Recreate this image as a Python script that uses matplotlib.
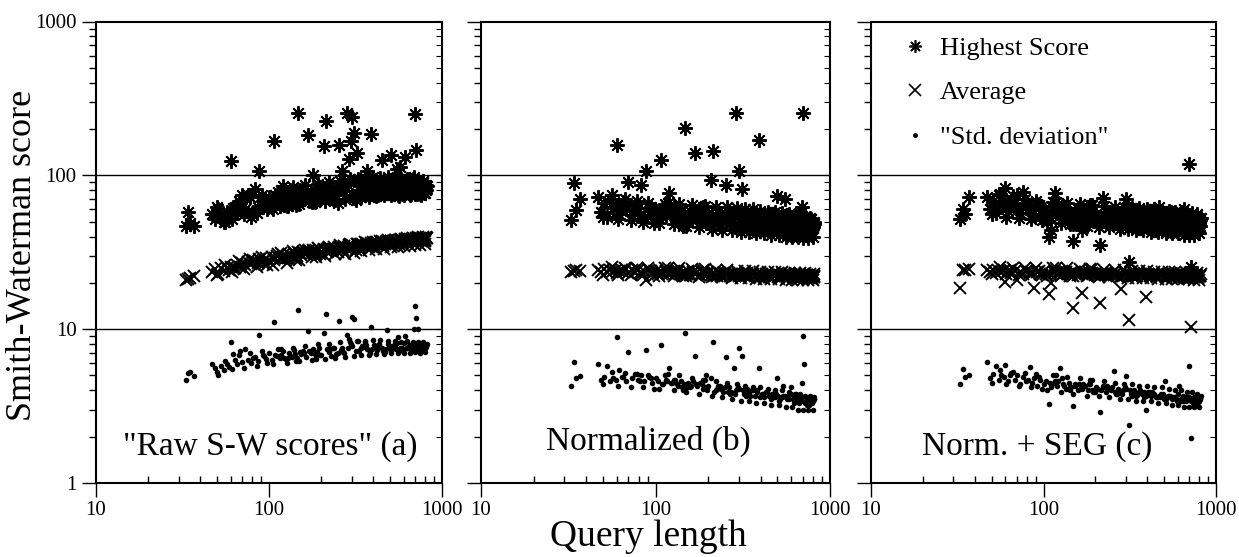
import numpy as np
import matplotlib
matplotlib.use('Agg')
import matplotlib.pyplot as plt
from matplotlib.lines import Line2D

plt.rcParams['font.family'] = ['Liberation Serif', 'DejaVu Serif']

# query lengths (shared by all three panels)
query_len = [
    33, 34, 35, 37, 47, 49, 51, 53, 55, 57,
    59, 60, 62, 65, 68, 70, 73, 76, 79, 83,
    86, 88, 92, 96, 100, 104, 107, 111, 115, 120,
    125, 130, 135, 140, 145, 148, 153, 158, 164, 168,
    174, 180, 187, 194, 201, 208, 214, 221, 229, 237,
    245, 255, 263, 272, 282, 290, 297, 302, 312, 322,
    333, 345, 357, 370, 383, 391, 405, 420, 435, 450,
    466, 482, 498, 506, 520, 540, 556, 575, 595, 612,
    630, 650, 670, 690, 700, 712, 728, 745, 762, 780,
    795, 805, 117, 132, 160, 190, 226, 260, 340, 415,
    475, 530, 585, 640, 680, 735, 770, 800, 550, 660,
    122, 142, 170, 198, 233, 268, 300, 328, 362, 395,
    428, 458, 490, 512, 535, 565, 600, 625, 645, 675,
    695, 718, 740, 758, 775, 790, 810, 64, 81, 94,
    109, 128, 152, 184, 216, 250, 285, 317, 350, 380,
    105, 118, 127, 137, 149, 162, 178, 192, 210, 223,
    240, 258, 276, 292, 308, 325, 342, 360, 378, 398,
    418, 440, 462, 485, 510, 532, 558, 582, 605, 628,
    652, 676, 698, 722, 748, 772, 798, 815, 50, 56,
    61, 67, 72, 78, 85, 91, 98, 113, 143, 186,
]

# (a) raw S-W scores
raw_high = [
    46.5, 58, 49, 46.5, 56, 52, 60, 55, 50, 58,
    54, 124, 61, 57, 66, 74, 60, 75, 54, 81,
    62, 107, 68, 64, 72, 66, 166, 70, 63, 85,
    74, 68, 80, 71, 76, 254, 69, 75, 72, 183,
    78, 101, 73, 80, 71, 154, 224, 77, 74, 82,
    75, 158, 107, 79, 254, 127, 166, 239, 188, 139,
    80, 76, 88, 106, 78, 186, 84, 79, 90, 126,
    82, 77, 92, 136, 80, 86, 78, 114, 84, 132,
    79, 88, 83, 98, 251, 147, 85, 80, 87, 82,
    84, 80, 66, 77, 70, 75, 72, 84, 74, 86,
    78, 90, 76, 81, 86, 78, 84, 82, 110, 76,
    64, 78, 68, 84, 70, 88, 74, 91, 76, 93,
    74, 87, 95, 76, 89, 73, 91, 78, 94, 80,
    92, 76, 88, 74, 90, 77, 86, 62, 58, 70,
    74, 63, 80, 67, 85, 66, 86, 69, 92, 72,
    60, 80, 63, 84, 65, 86, 67, 88, 68, 90,
    69, 92, 70, 94, 71, 95, 72, 96, 73, 97,
    73, 96, 74, 97, 74, 96, 75, 95, 75, 94,
    75, 94, 76, 93, 76, 92, 77, 85, 62, 50,
    52, 68, 56, 72, 57, 75, 60, 78, 64, 68,
]
raw_avg = [
    20.9, 21.2, 21.5, 22, 23.5, 24.5, 23, 24.8, 23.8, 25,
    24.2, 25.5, 24.8, 26, 25.3, 26.8, 26, 27.2, 26.4, 27.8,
    26.8, 28.5, 27.4, 28.8, 27.6, 29.4, 28.3, 29.8, 28.6, 30.2,
    29, 30.8, 29.6, 31.2, 30, 31.6, 30.4, 31.8, 30.6, 32.2,
    31, 32.6, 31.4, 33, 31.8, 33.2, 32, 33.6, 32.4, 34,
    32.6, 34.2, 33, 34.6, 33.2, 35, 33.6, 35.2, 34, 35.6,
    34.2, 35.8, 34.6, 36.2, 35, 36.4, 35.2, 36.8, 35.6, 37.2,
    35.8, 37.4, 36, 37.6, 36.4, 38, 36.6, 38.2, 36.8, 38.4,
    37, 38.6, 37.2, 38.8, 37.4, 39, 37.6, 39, 37.8, 39.2,
    37.6, 39.4, 29.2, 30.2, 31.2, 32.4, 32.8, 34, 35.2, 35.8,
    37, 37.2, 37.8, 37.4, 38.2, 38.4, 38.6, 38, 36.4, 37.8,
    29.6, 29.2, 32.6, 31, 33.4, 32.6, 34.4, 33.6, 35.4, 34.2,
    35.8, 34.6, 36.6, 35.2, 37.2, 35.6, 37.6, 36.2, 38, 36.6,
    38.2, 37.4, 38.8, 37.6, 39.4, 38, 39.6, 24.8, 28, 26.6,
    29.2, 28.8, 31.4, 30.6, 33, 31.8, 34.2, 32.8, 35.2, 34,
    26, 31.2, 27, 32, 28, 32.6, 29.4, 33.6, 30, 34.2,
    30.6, 35, 31, 35.6, 31.4, 36, 32.2, 36.6, 32.8, 37,
    33, 37.4, 33.4, 37.8, 34, 38.2, 34.2, 38.6, 34.6, 39,
    34.8, 39.2, 35, 39.6, 35.4, 40, 35.6, 39, 22.4, 26,
    23.4, 27.6, 24.6, 28.4, 25.4, 29.4, 26.2, 30.8, 28.2, 29.6,
]
raw_sd = [
    4.64, 5.19, 5.3, 4.93, 5.96, 5.6, 5.06, 5.8, 5.4, 5.9,
    5.7, 8.3, 6.9, 5.9, 7.2, 6.1, 7.4, 6.3, 6.0, 6.6,
    6.2, 9.2, 6.8, 6.4, 7.0, 6.3, 11.1, 6.7, 6.5, 7.2,
    6.4, 7.0, 6.6, 7.3, 6.5, 13.4, 6.9, 7.2, 6.6, 9.7,
    7.0, 7.4, 6.6, 7.6, 6.8, 9.5, 12.5, 7.1, 6.7, 7.5,
    6.9, 11.3, 7.6, 7.0, 9.2, 8.6, 8.0, 12.0, 11.7, 8.4,
    7.2, 7.8, 8.2, 7.4, 7.0, 10.3, 7.9, 7.3, 8.0, 7.5,
    7.1, 9.9, 7.8, 7.3, 7.7, 7.4, 8.9, 7.6, 7.2, 9.0,
    7.5, 7.9, 7.2, 10.0, 14.2, 11.8, 10.0, 7.4, 8.0, 7.3,
    7.6, 7.8, 6.8, 6.7, 7.0, 7.1, 7.4, 7.3, 7.6, 7.8,
    7.4, 7.9, 7.6, 7.7, 7.5, 7.8, 7.2, 7.6, 8.1, 7.4,
    6.5, 6.9, 7.2, 6.8, 7.5, 7.1, 7.8, 7.2, 7.9, 7.4,
    7.7, 7.2, 8.0, 7.4, 7.9, 7.3, 8.1, 7.5, 7.8, 7.2,
    7.9, 7.4, 8.1, 7.5, 7.8, 7.3, 7.7, 6.3, 6.5, 6.7,
    6.8, 6.5, 7.1, 6.9, 7.4, 7.0, 7.6, 7.2, 7.7, 7.3,
    5.9, 7.4, 6.0, 7.6, 6.2, 7.8, 6.3, 8.0, 6.4, 8.0,
    6.5, 8.2, 6.6, 8.3, 6.7, 8.4, 6.8, 8.4, 6.8, 8.5,
    6.9, 8.5, 6.9, 8.4, 7.0, 8.4, 7.0, 8.3, 7.0, 8.4,
    7.0, 8.3, 7.1, 8.3, 7.0, 8.2, 7.1, 8.0, 5.3, 6.2,
    5.5, 6.8, 5.6, 7.0, 5.8, 7.2, 6.0, 7.4, 6.2, 6.4,
]

# (b) normalized
norm_high = [
    51.4, 89.8, 59.7, 70, 72, 58, 66, 54, 70, 61,
    64, 158, 56, 67, 60, 91, 55, 63, 58, 87,
    54, 107, 61, 55, 59, 52, 126, 60, 56, 76.6,
    58, 54, 60, 53, 57, 203, 51, 59, 55, 139,
    52, 58, 54, 50, 57, 93.5, 145, 53, 49, 56,
    52, 86.7, 55, 50, 57, 254, 48, 106, 81, 53,
    49, 55, 51, 57, 47, 170, 53, 50, 55, 46,
    52, 48, 73, 50, 54, 45, 51, 47, 49, 53,
    46, 50, 48, 62.7, 254, 52, 45, 49, 47, 50,
    46, 48, 58, 56, 54, 55, 51, 54, 52, 48,
    50, 56, 44, 51, 57, 48, 46, 47, 70, 44,
    60, 52, 57, 49, 56, 48, 55, 47, 54, 45,
    53, 46, 52, 44, 51, 45, 50, 43, 49, 51,
    44, 50, 43, 48, 52, 45, 49, 64, 55, 62,
    54, 62, 50, 58, 49, 57, 46, 55, 48, 54,
    49, 66, 48, 65, 47, 64, 46, 63, 45, 62,
    44, 62, 44, 61, 43, 60, 43, 60, 42, 59,
    42, 58, 41, 58, 41, 57, 40, 56, 40, 55,
    40, 55, 39, 54, 39, 53, 40, 50, 54, 74,
    52, 70, 51, 68, 50, 66, 49, 65, 47, 62,
]
norm_avg = [
    23.7, 24, 24.2, 23.8, 24.4, 23.6, 24.6, 23.4, 24.2, 23.8,
    24.4, 23.2, 24, 23.6, 24.5, 23.3, 24.2, 23.5, 24.3, 22.8,
    23.9, 21, 24.1, 23.2, 23.9, 22.9, 24, 23.1, 23.8, 22.8,
    23.7, 22.7, 23.9, 22.9, 23.5, 23.1, 23.8, 22.6, 23.4, 22.8,
    23.6, 22.5, 23.3, 22.7, 23.5, 22.4, 23.2, 22.6, 23.4, 22.3,
    23.1, 22.5, 23.3, 22.2, 23, 22.6, 23.2, 22.1, 22.9, 22.4,
    23.1, 22, 22.8, 22.3, 23, 21.9, 22.7, 22.2, 22.9, 21.8,
    22.7, 22.1, 22.9, 21.8, 22.6, 22, 22.8, 21.7, 22.5, 21.9,
    22.7, 21.6, 22.4, 21.9, 22.6, 21.7, 22.5, 21.8, 22.3, 21.6,
    22.4, 21.8, 23.3, 23.6, 22.6, 23.2, 22.2, 23, 22.5, 22.1,
    22.3, 22.6, 21.8, 22.4, 21.9, 22.6, 21.8, 22.2, 22.9, 22,
    23.6, 22.6, 23.3, 22.4, 23.1, 22.2, 22.9, 22.0, 22.8, 21.9,
    22.7, 21.8, 22.6, 21.7, 22.5, 21.6, 22.4, 21.8, 22.6, 21.5,
    22.3, 21.7, 22.4, 21.6, 22.2, 21.5, 22.1, 24.1, 23.2, 24.0,
    22.8, 23.8, 22.7, 23.4, 22.3, 23.1, 22.1, 22.9, 21.9, 22.7,
    22.2, 24.9, 22.1, 24.8, 22.0, 24.6, 21.9, 24.5, 21.8, 24.3,
    21.7, 24.2, 21.6, 24.0, 21.5, 23.9, 21.4, 23.8, 21.3, 23.7,
    21.2, 23.6, 21.2, 23.5, 21.1, 23.4, 21.0, 23.3, 21.0, 23.2,
    20.9, 23.2, 20.9, 23.1, 20.8, 23.0, 20.8, 22.9, 22.6, 25.2,
    22.6, 25.1, 22.5, 25.0, 22.4, 24.9, 22.3, 24.8, 22.1, 24.4,
]
norm_sd = [
    4.3, 6.1, 4.8, 4.95, 5.96, 4.7, 4.9, 5.72, 4.6, 4.8,
    4.7, 8.9, 5.4, 4.9, 4.6, 7.06, 4.8, 5.1, 4.7, 5.0,
    4.6, 7.35, 4.9, 4.5, 4.8, 4.6, 7.9, 4.4, 4.7, 5.6,
    4.5, 4.7, 4.3, 4.6, 4.4, 9.5, 4.5, 4.2, 4.6, 6.7,
    4.3, 4.5, 4.1, 5.06, 4.3, 4.8, 8.25, 4.0, 4.3, 4.1,
    3.9, 6.6, 4.2, 3.9, 5.6, 4.0, 4.2, 7.5, 6.65, 3.8,
    4.1, 3.8, 4.0, 3.7, 4.0, 5.59, 3.8, 3.6, 3.9, 3.7,
    3.8, 3.6, 4.81, 3.7, 3.5, 4.24, 3.6, 3.7, 4.2, 3.5,
    3.6, 3.4, 3.6, 4.5, 8.97, 5.9, 3.4, 3.5, 3.3, 3.5,
    3.4, 3.5, 4.6, 4.4, 4.3, 4.2, 4.1, 3.9, 3.9, 3.8,
    3.7, 3.6, 3.5, 3.8, 3.4, 3.2, 3.4, 3.45, 3.7, 3.3,
    4.5, 4.2, 4.4, 4.0, 4.3, 3.8, 4.1, 3.7, 4.0, 3.6,
    3.9, 3.5, 3.8, 3.4, 3.7, 3.5, 3.8, 3.3, 3.7, 3.4,
    3.6, 3.3, 3.5, 3.2, 3.6, 3.3, 3.5, 4.9, 4.6, 4.8,
    4.4, 4.7, 4.2, 4.4, 3.9, 4.2, 3.8, 4.0, 3.7, 3.9,
    4.1, 5.1, 4.0, 5.0, 3.9, 4.8, 3.8, 4.7, 3.7, 4.6,
    3.6, 4.5, 3.5, 4.4, 3.4, 4.3, 3.4, 4.2, 3.3, 4.2,
    3.3, 4.1, 3.2, 4.0, 3.2, 4.0, 3.1, 3.9, 3.1, 3.8,
    3.0, 3.8, 3.0, 3.7, 3.0, 3.7, 3.0, 3.6, 4.4, 5.3,
    4.3, 5.2, 4.2, 5.1, 4.2, 5.0, 4.1, 5.0, 4.0, 4.7,
]

# (c) normalized + SEG filtering
seg_high = [
    52, 60, 56, 71.8, 72, 60, 68, 57, 74, 63,
    66, 82.6, 59, 70, 62, 74, 57, 78.5, 64, 60,
    56, 62, 65, 54, 60, 57, 40, 44.3, 59, 62,
    55, 60, 53, 58, 56, 37.2, 54, 60, 52, 44,
    57, 53, 59, 51, 56, 54, 35.3, 71, 50, 57,
    53, 58, 50, 55, 52, 57, 49, 70.5, 27.5, 54,
    51, 56, 49, 54, 58, 50, 53, 47, 55, 51,
    62, 48, 56, 50, 53, 47, 51, 55, 46, 52,
    48, 60, 47, 51, 119, 25.5, 49, 46, 52, 48,
    50, 47, 77.3, 55, 57, 52, 55, 51, 53, 49,
    55, 50, 44, 49, 53, 47, 51, 48, 58, 45,
    62, 52, 60, 51, 58, 49, 57, 48, 56, 47,
    55, 46, 54, 45, 53, 47, 52, 45, 51, 53,
    46, 52, 45, 50, 54, 46, 51, 66, 60, 64,
    54, 63, 52, 59, 50, 57, 47, 56, 49, 55,
    50, 67, 49, 66, 48, 65, 47, 64, 46, 63,
    46, 62, 45, 62, 45, 61, 44, 61, 44, 60,
    43, 60, 43, 59, 42, 59, 42, 58, 42, 58,
    41, 57, 41, 57, 41, 56, 42, 53, 56, 76,
    54, 73, 53, 70, 52, 68, 51, 67, 48, 64,
]
seg_avg = [
    18.5, 24.3, 24.3, 24.5, 24.2, 23.4, 24.4, 23.2, 24.0, 23.6,
    24.1, 20.4, 23.8, 23.1, 24.0, 20.8, 23.6, 22.9, 23.9, 23.3,
    23.7, 18.5, 23.5, 22.8, 23.8, 23.0, 17.0, 20.0, 23.6, 22.9,
    23.4, 22.7, 23.6, 22.9, 23.3, 13.7, 23.5, 22.6, 23.2, 17.3,
    23.4, 22.5, 23.1, 22.8, 23.3, 22.4, 14.9, 22.9, 23.2, 22.5,
    23.0, 22.4, 23.2, 22.6, 18.2, 22.3, 23.1, 22.7, 11.4, 22.4,
    23.0, 22.2, 22.8, 22.5, 23.1, 16.3, 22.7, 22.1, 22.9, 22.4,
    22.8, 22.1, 22.9, 22.3, 22.6, 22.0, 22.8, 22.2, 22.5, 21.9,
    22.7, 22.1, 22.5, 22.0, 22.8, 10.3, 22.6, 21.9, 22.4, 22.1,
    22.3, 22.0, 23.5, 23.1, 22.7, 23.2, 22.6, 23.0, 22.6, 22.3,
    22.5, 22.7, 22.0, 22.4, 22.1, 22.6, 22.0, 22.3, 22.9, 22.2,
    23.6, 22.7, 23.4, 22.5, 23.2, 22.3, 23.0, 22.1, 22.9, 22.0,
    22.8, 21.9, 22.7, 21.8, 22.6, 21.7, 22.5, 21.9, 22.7, 21.6,
    22.4, 21.8, 22.5, 21.7, 22.3, 21.6, 22.2, 24.2, 23.4, 24.0,
    22.9, 23.9, 22.8, 23.5, 22.4, 23.2, 22.2, 23.0, 22.0, 22.8,
    22.3, 24.9, 22.2, 24.8, 22.1, 24.6, 22.0, 24.5, 21.9, 24.4,
    21.8, 24.2, 21.7, 24.1, 21.6, 24.0, 21.5, 23.9, 21.5, 23.8,
    21.4, 23.7, 21.3, 23.6, 21.3, 23.5, 21.2, 23.4, 21.2, 23.3,
    21.1, 23.3, 21.1, 23.2, 21.0, 23.2, 21.0, 23.0, 22.7, 25.2,
    22.7, 25.1, 22.6, 25.0, 22.5, 24.9, 22.4, 24.8, 22.2, 24.5,
]
seg_sd = [
    4.42, 5.53, 4.9, 5.0, 6.08, 4.8, 5.1, 5.8, 4.7, 5.0,
    4.9, 5.85, 4.6, 5.2, 4.7, 5.0, 4.4, 4.9, 4.6, 5.7,
    4.5, 4.8, 4.3, 4.7, 4.4, 4.6, 3.27, 4.2, 4.5, 4.3,
    5.6, 4.4, 4.1, 4.5, 4.2, 3.19, 4.4, 4.0, 4.3, 4.1,
    4.3, 4.0, 4.4, 3.9, 4.2, 4.1, 2.89, 4.3, 3.9, 4.1,
    4.0, 5.31, 3.8, 4.1, 3.9, 4.0, 4.2, 4.98, 2.39, 3.8,
    4.0, 3.7, 3.9, 3.8, 3.6, 2.99, 3.9, 3.7, 3.8, 3.6,
    3.7, 3.8, 3.5, 4.57, 3.6, 3.7, 3.5, 3.6, 3.4, 4.24,
    3.5, 3.6, 3.4, 3.5, 5.72, 1.96, 3.4, 3.6, 3.3, 3.5,
    3.4, 3.5, 4.6, 4.3, 4.4, 4.0, 4.2, 3.9, 3.8, 3.9,
    3.6, 3.7, 3.5, 3.4, 3.6, 3.3, 3.5, 3.4, 3.6, 3.45,
    4.6, 4.2, 4.4, 3.9, 4.3, 3.8, 4.1, 3.7, 4.0, 3.7,
    3.9, 3.6, 3.8, 3.5, 3.7, 3.6, 3.8, 3.4, 3.7, 3.5,
    3.6, 3.4, 3.5, 3.3, 3.6, 3.35, 3.5, 5.0, 4.7, 4.9,
    4.5, 4.8, 4.3, 4.4, 4.0, 4.2, 3.8, 4.0, 3.75, 3.9,
    4.0, 5.0, 3.9, 4.9, 3.8, 4.8, 3.7, 4.7, 3.7, 4.6,
    3.6, 4.5, 3.5, 4.4, 3.5, 4.4, 3.4, 4.3, 3.4, 4.3,
    3.4, 4.2, 3.3, 4.2, 3.3, 4.1, 3.2, 4.0, 3.2, 4.0,
    3.1, 3.9, 3.1, 3.9, 3.1, 3.8, 3.1, 3.7, 4.5, 5.4,
    4.4, 5.3, 4.3, 5.2, 4.2, 5.1, 4.1, 5.0, 4.0, 4.7,
]

panels = [
    ('"Raw S-W scores" (a)', raw_high, raw_avg, raw_sd, 0.503, 0.062),
    ('Normalized (b)', norm_high, norm_avg, norm_sd, 0.479, 0.072),
    ('Norm. + SEG (c)', seg_high, seg_avg, seg_sd, 0.483, 0.062),
]
lefts = [96, 481, 871]
widths = [346, 349, 345]

W, H = 1239, 557
fig = plt.figure(figsize=(W / 100, H / 100), dpi=100)

star = (8, 2, 0)
for i, (label, high, avg, sd, tx, ty) in enumerate(panels):
    ax = fig.add_axes([lefts[i] / W, (H - 483) / H, widths[i] / W, 461.5 / H])
    ax.set_xscale('log')
    ax.set_yscale('log')
    ax.set_xlim(10, 1000)
    ax.set_ylim(1, 1000)

    ax.axhline(10, color='black', lw=1.0, zorder=1)
    ax.axhline(100, color='black', lw=1.0, zorder=1)

    ax.plot(query_len, high, linestyle='none', marker=star, ms=10.5, mew=1.4,
            color='black', zorder=3)
    ax.plot(query_len, avg, linestyle='none', marker='x', ms=8.5, mew=1.4,
            color='black', zorder=3)
    ax.plot(query_len, sd, linestyle='none', marker='o', ms=4, mew=0,
            color='black', zorder=3)

    ax.text(tx, ty, label, transform=ax.transAxes, ha='center', va='baseline',
            fontsize=24)

    for s in ax.spines.values():
        s.set_linewidth(1.5)
    ax.set_xticks([10, 100, 1000])
    ax.set_xticklabels(['10', '100', '1000'])
    ax.set_yticks([1, 10, 100, 1000])
    if i == 0:
        ax.set_yticklabels(['1', '10', '100', '1000'])
    else:
        ax.set_yticklabels([])
    ax.tick_params(axis='x', which='major', direction='out', length=10, width=1,
                   labelsize=15, pad=3)
    ax.tick_params(axis='x', which='minor', direction='in', length=5, width=1,
                   labelbottom=False)
    ax.tick_params(axis='y', which='major', direction='out', length=10, width=1,
                   labelsize=15, pad=4)
    ax.tick_params(axis='y', which='minor', direction='out', length=5, width=1,
                   labelleft=False)

    # small inward ticks on the right frame
    ax_r = ax.twinx()
    ax_r.set_yscale('log')
    ax_r.set_ylim(1, 1000)
    ax_r.set_yticks([1, 10, 100, 1000])
    ax_r.set_yticklabels([])
    ax_r.tick_params(axis='y', which='both', direction='in', length=4, width=0.8,
                     labelright=False)
    ax_r.tick_params(axis='y', which='minor', labelright=False)
    for s in ax_r.spines.values():
        s.set_visible(False)

    if i == 2:
        handles = [
            Line2D([], [], linestyle='none', marker=star, ms=9, mew=1.2, color='black'),
            Line2D([], [], linestyle='none', marker='x', ms=9, mew=1.2, color='black'),
            Line2D([], [], linestyle='none', marker='o', ms=3.5, mew=0, color='black'),
        ]
        ax.legend(handles, ['Highest Score', 'Average', '"Std. deviation"'],
                  loc='upper left', bbox_to_anchor=(0.097, 0.968), frameon=False,
                  borderaxespad=0, borderpad=0, fontsize=19, handlelength=0.8,
                  handletextpad=0.55, labelspacing=0.8)

fig.text(22.5 / W, 1 - 255 / H, 'Smith-Waterman score', rotation=90,
         ha='center', va='center', fontsize=26)
fig.text(648 / W, 1 - 537 / H, 'Query length', ha='center', va='center',
         fontsize=27)

fig.savefig('out.png', dpi=100)
